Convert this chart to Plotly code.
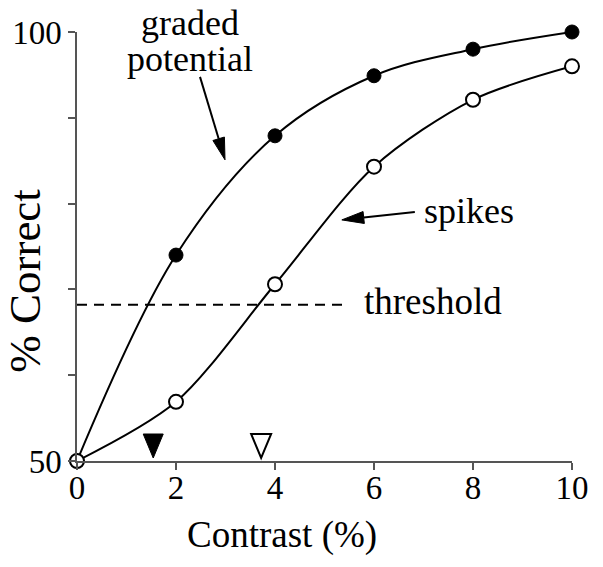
import math
import plotly.graph_objects as go

contrast = [0, 2, 4, 6, 8, 10]
graded_potential = [50, 74.0, 87.9, 94.9, 98.0, 100.0]
spikes = [50, 56.9, 70.6, 84.3, 92.1, 96.0]
threshold_level = 68.2
threshold_x = [0, 5.45]
threshold_contrast_graded = 1.54
threshold_contrast_spikes = 3.72
y_ticks = [50, 60, 70, 80, 90, 100]
y_ticklabels = ["50", "", "", "", "", "100"]
x_ticks = [0, 2, 4, 6, 8, 10]

FONT = "Liberation Serif, Times New Roman, serif"

fig = go.Figure()

fig.add_trace(go.Scatter(
    x=threshold_x, y=[threshold_level, threshold_level], mode="lines",
    line=dict(color="black", width=2, dash="10px,7px"), cliponaxis=False,
    showlegend=False, hoverinfo="skip"))

fig.add_trace(go.Scatter(
    x=contrast, y=graded_potential, mode="lines+markers",
    line=dict(color="black", width=2, shape="spline", smoothing=1.0),
    marker=dict(size=14, color="black", line=dict(color="black", width=1)),
    cliponaxis=False, showlegend=False))

fig.add_trace(go.Scatter(
    x=contrast, y=spikes, mode="lines+markers",
    line=dict(color="black", width=2, shape="spline", smoothing=0.85),
    marker=dict(size=14, color="white", line=dict(color="black", width=2)),
    cliponaxis=False, showlegend=False))

axis_common = dict(showline=True, linecolor="#555", linewidth=1.5,
                   ticks="outside", ticklen=7, tickcolor="#555", tickwidth=1.5,
                   showgrid=False, zeroline=False, automargin=False,
                   tickfont=dict(family=FONT, size=33, color="black"))

fig.update_xaxes(range=[0, 10], tickvals=x_ticks, ticklabelstandoff=-10, **axis_common)
fig.update_yaxes(range=[50, 100], tickvals=y_ticks, ticktext=y_ticklabels, **axis_common)


def arrow_shapes(x, y, dx, dy, head_len, head_half):
    """Arrow whose tip is at data point (x, y); tail offset (dx, dy) in screen px."""
    L = math.hypot(dx, dy)
    ux, uy = -dx / L, -dy / L
    bx, by = -head_len * ux, -head_len * uy
    px, py = -uy, ux
    f = lambda v: f"{v:.2f}"
    line_path = f"M{f(dx)},{f(-dy)} L{f(bx)},{f(-by)}"
    head_path = (f"M0,0 L{f(bx + head_half * px)},{f(-(by + head_half * py))} "
                 f"L{f(bx - head_half * px)},{f(-(by - head_half * py))} Z")
    common = dict(type="path", xref="x", yref="y", xsizemode="pixel", ysizemode="pixel",
                  xanchor=x, yanchor=y)
    return [
        dict(path=line_path, line=dict(color="black", width=2), **common),
        dict(path=head_path, fillcolor="black", line=dict(color="black", width=1), **common),
    ]


shapes = []
shapes += arrow_shapes(2.99, 85.1, -25, -83, 22, 6)
shapes += arrow_shapes(5.35, 78.1, 73, -8, 22, 6)
# threshold markers
tri_common = dict(type="path", xref="x", yref="y", xsizemode="pixel", ysizemode="pixel",
                  yanchor=50, path="M-10,27 L10,27 L0,3 Z")
shapes.append(dict(xanchor=threshold_contrast_graded, fillcolor="black",
                   line=dict(color="black", width=1), **tri_common))
shapes.append(dict(xanchor=threshold_contrast_spikes, fillcolor="white",
                   line=dict(color="black", width=2), **tri_common))

tf = dict(family=FONT, size=36, color="black")
ann = [
    dict(x=2.28, y=1.022, xref="x", yref="paper", text="graded", showarrow=False, font=tf,
         xanchor="center", yanchor="middle"),
    dict(x=2.28, y=96.9, text="potential", showarrow=False, font=tf, xanchor="center", yanchor="middle"),
    dict(x=6.97, y=79.1, text="spikes", showarrow=False, font=tf, xanchor="left", yanchor="middle"),
    dict(x=5.76, y=68.6, text="threshold", showarrow=False, font=dict(family=FONT, size=37, color="black"),
         xanchor="left", yanchor="middle"),
    dict(x=0.414, y=-0.172, xref="paper", yref="paper", text="Contrast (%)", showarrow=False,
         font=dict(family=FONT, size=37, color="black"), xanchor="center", yanchor="middle"),
    dict(x=-0.105, y=0.42, xref="paper", yref="paper", text="% Correct", showarrow=False,
         font=dict(family=FONT, size=45, color="black"), textangle=-90,
         xanchor="center", yanchor="middle"),
]
fig.update_layout(
    width=595, height=559,
    margin=dict(l=69, r=31, t=24, b=106, autoexpand=False),
    paper_bgcolor="white", plot_bgcolor="white",
    annotations=ann, shapes=shapes,
)

fig.write_html("out.html")
